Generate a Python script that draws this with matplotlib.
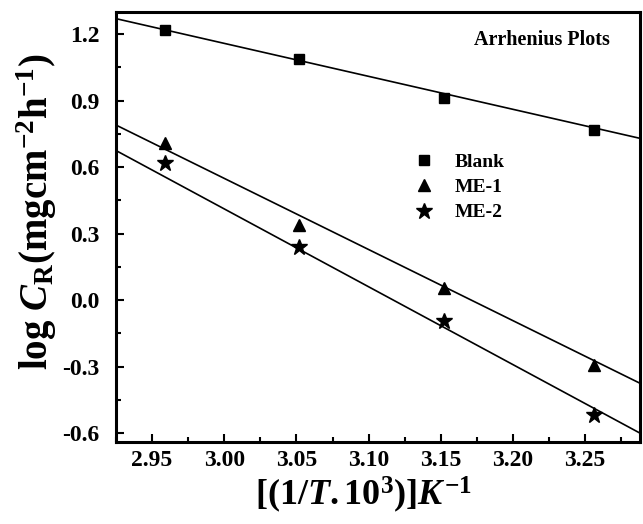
import numpy as np
import matplotlib
matplotlib.use('Agg')
import matplotlib.pyplot as plt
from matplotlib.ticker import MultipleLocator, FormatStrFormatter

plt.rcParams['font.family'] = ['Liberation Serif', 'DejaVu Serif']
plt.rcParams['font.weight'] = 'bold'
plt.rcParams['mathtext.fontset'] = 'custom'
plt.rcParams['mathtext.rm'] = 'Liberation Serif:bold'
plt.rcParams['mathtext.it'] = 'Liberation Serif:italic:bold'
plt.rcParams['mathtext.bf'] = 'Liberation Serif:bold'

# data
inv_T = [2.959, 3.052, 3.152, 3.256]
blank = [1.218, 1.09, 0.91, 0.767]
me1 = [0.71, 0.34, 0.057, -0.293]
me2 = [0.62, 0.24, -0.093, -0.52]

# fitted lines as drawn in the figure (value at left / right axis edge)
fit_x = [2.925, 3.288]
blank_fit = [1.27, 0.73]
me1_fit = [0.79, -0.375]
me2_fit = [0.675, -0.60]

series = [
    ('Blank', blank, blank_fit, 's', 7),
    ('ME-1', me1, me1_fit, '^', 9),
    ('ME-2', me2, me2_fit, '*', 12),
]

fig = plt.figure(figsize=(6.43, 5.24), dpi=100)
ax = fig.add_axes([116 / 643, 1 - 442 / 524, 524 / 643, 430 / 524])

for name, vals, fit, mk, ms in series:
    ax.plot(fit_x, fit, color='black', lw=1.2)
    ax.plot(inv_T, vals, linestyle='none', marker=mk, ms=ms, color='black', label=name)

ax.set_xlim(fit_x[0], fit_x[1])
ax.set_ylim(-0.64, 1.30)
ax.xaxis.set_major_locator(MultipleLocator(0.05))
ax.xaxis.set_minor_locator(MultipleLocator(0.025))
ax.yaxis.set_major_locator(MultipleLocator(0.3))
ax.yaxis.set_minor_locator(MultipleLocator(0.15))
ax.xaxis.set_major_formatter(FormatStrFormatter('%.2f'))
ax.yaxis.set_major_formatter(FormatStrFormatter('%.1f'))
ax.tick_params(which='both', direction='in', top=False, right=False, labelsize=17, width=1.5)
ax.tick_params(which='major', length=6)
ax.tick_params(which='minor', length=3.5)
ax.tick_params(axis='x', which='major', pad=6)
ax.tick_params(axis='y', which='major', pad=12)
for s in ax.spines.values():
    s.set_linewidth(2.2)

ax.set_xlabel(r'$\mathrm{[(1/}\mathit{T}\mathrm{.10^{3})]}\mathit{K}^{\mathrm{-1}}$', fontsize=26)
ax.xaxis.set_label_coords(0.472, -0.075, transform=ax.transAxes)
ax.xaxis.label.set_va('top')
ax.set_ylabel(r'$\mathrm{log\ }\mathit{C}_{\mathrm{R}}\mathrm{(mgcm^{-2}h^{-1})}$', fontsize=28)
ax.yaxis.set_label_coords(-0.108, 0.535, transform=ax.transAxes)

ax.text(0.943, 0.935, 'Arrhenius Plots', transform=ax.transAxes, ha='right', va='center',
        fontsize=14.5, fontweight='bold')

ax.legend(loc='upper left', bbox_to_anchor=(0.55, 0.69), frameon=False, fontsize=14,
          handletextpad=1.0, labelspacing=0.4, handlelength=1.2, borderaxespad=0)

fig.savefig('out.png', dpi=100)
